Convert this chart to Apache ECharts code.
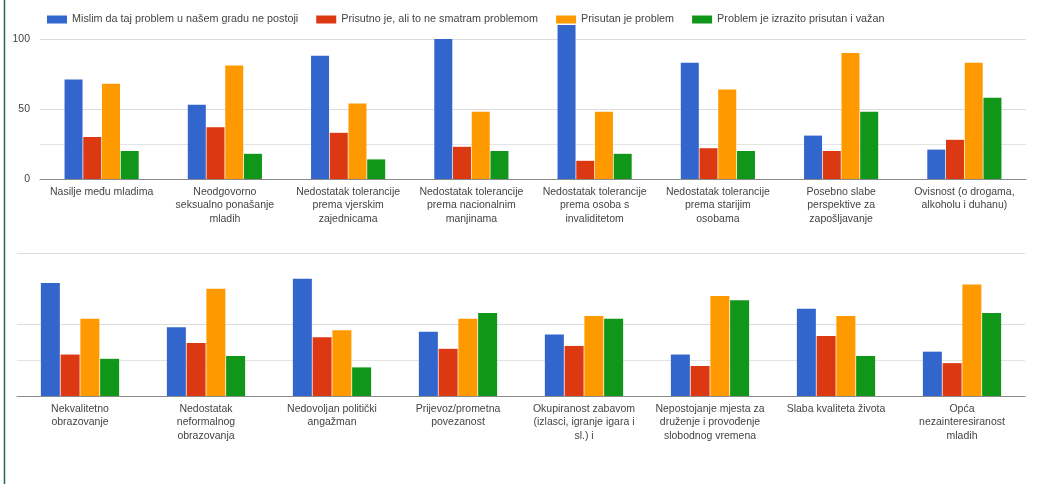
<!DOCTYPE html>
<html><head><meta charset="utf-8">
<script src="https://cdn.jsdelivr.net/npm/echarts@6/dist/echarts.min.js"></script>
<style>html,body{margin:0;padding:0;background:#fff;}#c{width:1063px;height:484px;}</style>
</head><body><div id="c"></div>
<script>
const seriesNames = [
  "Mislim da taj problem u našem gradu ne postoji",
  "Prisutno je, ali to ne smatram problemom",
  "Prisutan je problem",
  "Problem je izrazito prisutan i važan"
];
const topCategories = [
  "Nasilje među mladima",
  "Neodgovorno\nseksualno ponašanje\nmladih",
  "Nedostatak tolerancije\nprema vjerskim\nzajednicama",
  "Nedostatak tolerancije\nprema nacionalnim\nmanjinama",
  "Nedostatak tolerancije\nprema osoba s\ninvaliditetom",
  "Nedostatak tolerancije\nprema starijim\nosobama",
  "Posebno slabe\nperspektive za\nzapošljavanje",
  "Ovisnost (o drogama,\nalkoholu i duhanu)"
];
const bottomCategories = [
  "Nekvalitetno\nobrazovanje",
  "Nedostatak\nneformalnog\nobrazovanja",
  "Nedovoljan politički\nangažman",
  "Prijevoz/prometna\npovezanost",
  "Okupiranost zabavom\n(izlasci, igranje igara i\nsl.) i",
  "Nepostojanje mjesta za\ndruženje i provođenje\nslobodnog vremena",
  "Slaba kvaliteta života",
  "Opća\nnezainteresiranost\nmladih"
];
const topValues = [
  [71, 53, 88, 100, 110, 83, 31, 21],
  [30, 37, 33, 23, 13, 22, 20, 28],
  [68, 81, 54, 48, 48, 64, 90, 83],
  [20, 18, 14, 20, 18, 20, 48, 58]
];
const bottomValues = [
  [79, 48, 82, 45, 43, 29, 61, 31],
  [29, 37, 41, 33, 35, 21, 42, 23],
  [54, 75, 46, 54, 56, 70, 56, 78],
  [26, 28, 20, 58, 54, 67, 28, 58]
];
const yTicks = [0, 50, 100];
const colors = ["#3366cc", "#dc3912", "#ff9900", "#109618"];

const font = "Liberation Sans, Arial, sans-serif";
const gridColors = ["#999", "#e4e4e4", "#dcdcdc", "rgba(0,0,0,0)", "#dcdcdc"];

function xAxis(idx, cats) {
  return {
    type: "category", gridIndex: idx, data: cats,
    axisLine: {show: true, lineStyle: {color: "#8a8a8a", width: 1}},
    axisTick: {show: false},
    axisLabel: {interval: 0, color: "#444", fontSize: 10.5, fontFamily: font, lineHeight: 13.5, margin: 6}
  };
}
function yAxis(idx, showLabels) {
  return {
    type: "value", gridIndex: idx, min: 0, max: 100, interval: 25,
    axisLine: {show: false}, axisTick: {show: false},
    axisLabel: {show: showLabels, color: "#444", fontSize: 10.5, fontFamily: font, margin: 10,
      formatter: v => yTicks.indexOf(v) >= 0 ? String(v) : ""},
    splitLine: {show: true, lineStyle: {color: gridColors, width: 1}}
  };
}
const series = [];
for (let s = 0; s < 4; s++) {
  series.push({name: seriesNames[s], type: "bar", xAxisIndex: 0, yAxisIndex: 0,
    data: topValues[s], barWidth: 18, barGap: "4%", clip: false,
    itemStyle: {color: colors[s]}});
}
for (let s = 0; s < 4; s++) {
  series.push({name: seriesNames[s], type: "bar", xAxisIndex: 1, yAxisIndex: 1,
    data: bottomValues[s], barWidth: 19, barGap: "4%", clip: false,
    itemStyle: {color: colors[s]}});
}
const chart = echarts.init(document.getElementById("c"), null, {renderer: "canvas"});
chart.setOption({
  animation: false,
  backgroundColor: "#fff",
  textStyle: {fontFamily: font},
  legend: {
    top: 9, left: 42, itemWidth: 20, itemHeight: 8, itemGap: 18,
    icon: "rect",
    textStyle: {fontSize: 10.8, color: "#444", fontFamily: font},
    data: seriesNames
  },
  grid: [
    {left: 40, right: 37, top: 39, height: 140},
    {left: 17, right: 38, top: 253, height: 143}
  ],
  xAxis: [xAxis(0, topCategories), xAxis(1, bottomCategories)],
  yAxis: [yAxis(0, true), yAxis(1, false)],
  series: series,
  graphic: [{type: "line", shape: {x1: 4.5, y1: 0, x2: 4.5, y2: 484},
    style: {stroke: "#2b6a4a", lineWidth: 1.5}}]
});
</script></body></html>
